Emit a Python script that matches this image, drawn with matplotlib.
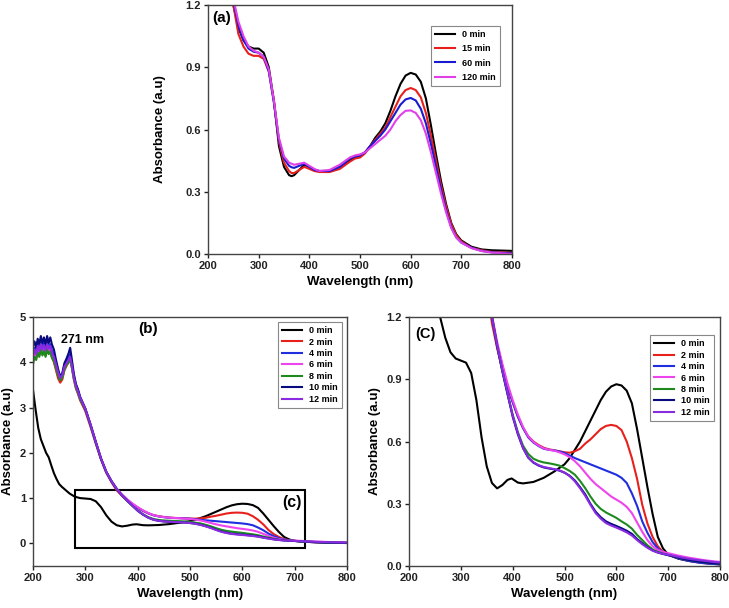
import matplotlib.pyplot as plt
from matplotlib.patches import Rectangle

plt.rcParams["font.family"] = ["Liberation Sans", "DejaVu Sans"]
plt.rcParams["font.weight"] = "bold"

# ---- panel (a) ----
wl_a = [240, 250, 260, 270, 280, 290, 300, 310, 320, 330, 340, 350, 360, 365, 370, 380,
        390, 400, 410, 420, 440, 460, 480, 490, 500, 510, 520, 530, 540, 550, 560, 570,
        580, 590, 600, 610, 620, 630, 640, 650, 660, 670, 680, 690, 700, 720, 740, 760, 800]
a_0 = [1.38, 1.2, 1.09, 1.03, 1.0, 0.99, 0.99, 0.97, 0.9, 0.74, 0.52, 0.42, 0.38, 0.375, 0.38, 0.405,
       0.43, 0.42, 0.405, 0.4, 0.4, 0.42, 0.45, 0.465, 0.475, 0.49, 0.52, 0.56, 0.59, 0.63, 0.69, 0.76,
       0.82, 0.86, 0.873, 0.865, 0.83, 0.75, 0.62, 0.48, 0.35, 0.24, 0.15, 0.095, 0.065, 0.035, 0.022, 0.018, 0.015]
a_15 = [1.36, 1.2, 1.06, 1.0, 0.965, 0.955, 0.955, 0.94, 0.88, 0.74, 0.54, 0.44, 0.4, 0.39, 0.39, 0.405,
        0.42, 0.41, 0.4, 0.395, 0.395, 0.41, 0.445, 0.46, 0.465, 0.485, 0.52, 0.55, 0.58, 0.61, 0.66, 0.71,
        0.76, 0.79, 0.8, 0.79, 0.755, 0.68, 0.57, 0.45, 0.33, 0.23, 0.145, 0.09, 0.06, 0.03, 0.018, 0.01, 0.005]
a_60 = [1.38, 1.22, 1.1, 1.03, 0.99, 0.975, 0.97, 0.95, 0.88, 0.73, 0.55, 0.46, 0.425, 0.418, 0.415, 0.425,
        0.435, 0.42, 0.405, 0.4, 0.4, 0.42, 0.46, 0.47, 0.475, 0.49, 0.52, 0.545, 0.57, 0.6, 0.64, 0.68,
        0.72, 0.745, 0.752, 0.74, 0.7, 0.63, 0.53, 0.42, 0.31, 0.21, 0.13, 0.08, 0.055, 0.03, 0.015, 0.008, 0.003]
a_120 = [1.4, 1.23, 1.12, 1.05, 1.0, 0.98, 0.97, 0.95, 0.89, 0.74, 0.56, 0.47, 0.44, 0.435, 0.43, 0.435,
         0.44, 0.425, 0.41, 0.4, 0.405, 0.43, 0.465, 0.475, 0.48, 0.49, 0.51, 0.53, 0.55, 0.57, 0.6, 0.64,
         0.67, 0.69, 0.692, 0.68, 0.645, 0.58, 0.49, 0.39, 0.29, 0.2, 0.125, 0.08, 0.055, 0.028, 0.014, 0.007, 0.0]
labels_a = ["0 min", "15 min", "60 min", "120 min"]
colors_a = ["black", "#e8201c", "#1a1ad0", "#e040e8"]

# ---- panels (b) and (c) ----
wl_0 = [200, 205, 210, 215, 220, 225, 230, 235, 240, 245, 250, 255, 260, 270, 280, 290, 300, 310,
        320, 330, 340, 350, 360, 370, 380, 390, 398, 410, 420, 440, 460, 480, 500, 510, 520, 530,
        540, 550, 560, 570, 580, 590, 600, 610, 620, 630, 640, 650, 660, 670, 680, 690, 700, 720,
        740, 760, 780, 800]
b_0 = [3.39, 2.95, 2.55, 2.3, 2.15, 2.0, 1.9, 1.72, 1.55, 1.42, 1.31, 1.25, 1.2, 1.1, 1.03, 1.0, 0.99, 0.98,
       0.93, 0.8, 0.62, 0.48, 0.4, 0.374, 0.39, 0.415, 0.422, 0.402, 0.398, 0.405, 0.425, 0.455, 0.49, 0.52,
       0.56, 0.6, 0.65, 0.7, 0.75, 0.8, 0.84, 0.865, 0.876, 0.87, 0.845, 0.784, 0.66, 0.52, 0.38, 0.25,
       0.14, 0.085, 0.055, 0.035, 0.025, 0.018, 0.012, 0.008]

wl_t = [200, 203, 206, 209, 212, 215, 218, 221, 224, 227, 230, 233, 236, 240, 244, 248, 252, 256,
        260, 264, 268, 271, 274, 278, 282, 286, 290,
        300, 310, 320, 330, 340, 350, 360, 370, 380, 390, 400, 410, 420, 430, 440, 450, 460, 470,
        480, 490, 500, 510, 520, 530, 540, 550, 560, 570, 580, 590, 600, 610, 620, 630, 640, 650,
        660, 670, 680, 690, 700, 710, 720, 730, 740, 750, 760, 770, 780, 790, 800]
b_2 = [4.05, 4.18, 4.08, 4.26, 4.15, 4.3, 4.18, 4.28, 4.15, 4.3, 4.2, 4.25, 4.12, 4.0, 3.82, 3.64, 3.55, 3.62,
       3.82, 3.92, 4.0, 4.06, 3.9, 3.62, 3.42, 3.3, 3.16,
       2.92, 2.57, 2.2, 1.85, 1.56, 1.35, 1.17, 1.05, 0.95, 0.86, 0.79, 0.72, 0.665, 0.625, 0.6, 0.583, 0.57, 0.562,
       0.558, 0.553, 0.548, 0.546, 0.553, 0.565, 0.59, 0.61, 0.635, 0.66, 0.675, 0.68, 0.675, 0.655, 0.6, 0.52, 0.42, 0.295,
       0.205, 0.14, 0.095, 0.068, 0.055, 0.045, 0.037, 0.03, 0.025, 0.02, 0.017, 0.014, 0.012, 0.01, 0.008]
b_4 = [4.2, 4.32, 4.2, 4.4, 4.28, 4.45, 4.3, 4.42, 4.28, 4.45, 4.32, 4.4, 4.26, 4.16, 3.97, 3.8, 3.66, 3.74,
       3.93, 4.02, 4.1, 4.18, 3.98, 3.7, 3.5, 3.38, 3.22,
       2.96, 2.62, 2.23, 1.87, 1.58, 1.37, 1.2, 1.07, 0.965, 0.87, 0.79, 0.72, 0.665, 0.62, 0.595, 0.578, 0.565, 0.56,
       0.557, 0.552, 0.545, 0.532, 0.52, 0.51, 0.5, 0.49, 0.48, 0.47, 0.46, 0.45, 0.44, 0.425, 0.4, 0.35, 0.29, 0.215,
       0.16, 0.115, 0.085, 0.065, 0.055, 0.045, 0.036, 0.03, 0.024, 0.02, 0.016, 0.013, 0.011, 0.009, 0.008]
b_6 = [4.1, 4.22, 4.12, 4.3, 4.2, 4.35, 4.22, 4.32, 4.2, 4.34, 4.25, 4.3, 4.18, 4.08, 3.9, 3.74, 3.62, 3.68,
       3.86, 3.95, 4.02, 4.08, 3.92, 3.66, 3.46, 3.34, 3.2,
       2.97, 2.62, 2.24, 1.88, 1.58, 1.38, 1.21, 1.08, 0.975, 0.88, 0.8, 0.73, 0.67, 0.625, 0.598, 0.58, 0.567, 0.56,
       0.556, 0.548, 0.538, 0.525, 0.505, 0.48, 0.45, 0.42, 0.395, 0.375, 0.355, 0.335, 0.32, 0.305, 0.285, 0.255, 0.21, 0.165,
       0.125, 0.095, 0.078, 0.068, 0.062, 0.056, 0.05, 0.045, 0.04, 0.036, 0.032, 0.028, 0.025, 0.022, 0.02]
b_8 = [3.95, 4.12, 4.05, 4.22, 4.12, 4.28, 4.15, 4.25, 4.12, 4.28, 4.18, 4.24, 4.1, 4.02, 3.86, 3.7, 3.6, 3.66,
       3.84, 3.94, 4.0, 4.06, 3.9, 3.64, 3.44, 3.32, 3.18,
       2.95, 2.6, 2.22, 1.86, 1.57, 1.37, 1.2, 1.06, 0.94, 0.83, 0.73, 0.645, 0.58, 0.54, 0.517, 0.506, 0.499, 0.495,
       0.49, 0.484, 0.472, 0.458, 0.44, 0.41, 0.375, 0.335, 0.3, 0.275, 0.258, 0.245, 0.232, 0.215, 0.2, 0.18, 0.15, 0.125,
       0.1, 0.08, 0.068, 0.06, 0.053, 0.046, 0.04, 0.034, 0.029, 0.025, 0.021, 0.018, 0.015, 0.013, 0.011]
b_10 = [4.35, 4.46, 4.32, 4.52, 4.4, 4.58, 4.42, 4.55, 4.38, 4.58, 4.42, 4.55, 4.4, 4.28, 4.05, 3.85, 3.68, 3.76,
        3.98, 4.08, 4.2, 4.32, 4.08, 3.75, 3.52, 3.4, 3.24,
        2.98, 2.62, 2.24, 1.87, 1.58, 1.37, 1.2, 1.06, 0.94, 0.83, 0.72, 0.635, 0.568, 0.522, 0.498, 0.484, 0.475, 0.47,
        0.466, 0.46, 0.45, 0.435, 0.412, 0.38, 0.345, 0.3, 0.262, 0.235, 0.215, 0.203, 0.193, 0.182, 0.17, 0.155, 0.13, 0.11,
        0.09, 0.075, 0.065, 0.058, 0.052, 0.046, 0.04, 0.034, 0.029, 0.025, 0.021, 0.018, 0.015, 0.013, 0.011]
b_12 = [4.15, 4.28, 4.18, 4.36, 4.25, 4.4, 4.28, 4.38, 4.26, 4.4, 4.3, 4.36, 4.22, 4.12, 3.95, 3.78, 3.65, 3.72,
        3.9, 3.98, 4.05, 4.12, 3.95, 3.68, 3.48, 3.36, 3.22,
        2.97, 2.62, 2.24, 1.87, 1.58, 1.37, 1.2, 1.065, 0.945, 0.835, 0.725, 0.64, 0.57, 0.524, 0.5, 0.486, 0.477, 0.472,
        0.467, 0.461, 0.45, 0.433, 0.408, 0.375, 0.338, 0.295, 0.255, 0.228, 0.207, 0.195, 0.185, 0.174, 0.162, 0.147, 0.125, 0.105,
        0.088, 0.074, 0.065, 0.059, 0.054, 0.049, 0.044, 0.039, 0.035, 0.031, 0.028, 0.025, 0.022, 0.019, 0.017]
labels_bc = ["0 min", "2 min", "4 min", "6 min", "8 min", "10 min", "12 min"]
colors_bc = ["black", "#e8201c", "#1f2fe0", "#ee44ee", "#1e8a1e", "#0a0a80", "#8a2be2"]

W, H = 729, 608
fig = plt.figure(figsize=(W / 100, H / 100), dpi=100)


def px_axes(x0, y0, x1, y1):
    return fig.add_axes([x0 / W, 1 - y1 / H, (x1 - x0) / W, (y1 - y0) / H])


def style(ax, ylim, yticks, yfmt, ypad=4):
    ax.set_xlim(200, 800)
    ax.set_ylim(*ylim)
    ax.set_xticks(range(200, 801, 100))
    ax.set_yticks(yticks)
    ax.set_yticklabels([yfmt.format(v) for v in yticks])
    ax.tick_params(direction="out", length=3, width=1, labelsize=8, colors="#222222", pad=2)
    for s in ax.spines.values():
        s.set_color("#444444")
        s.set_linewidth(1.0)
    ax.set_xlabel("Wavelength (nm)", fontsize=9.5, fontweight="bold", labelpad=4)
    ax.set_ylabel("Absorbance (a.u)", fontsize=9.5, fontweight="bold", labelpad=ypad)


def legend(ax, anchor, spacing):
    leg = ax.legend(loc="upper right", bbox_to_anchor=anchor, fontsize=6.5, handlelength=2.2,
                    labelspacing=spacing, borderpad=0.45, handletextpad=0.8,
                    fancybox=False, framealpha=1, edgecolor="#888888")
    leg.get_frame().set_linewidth(0.8)
    for t in leg.get_texts():
        t.set_fontweight("bold")


# (a)
ax_a = px_axes(208, 5, 512, 254)
for y, c, lab in zip([a_0, a_15, a_60, a_120], colors_a, labels_a):
    ax_a.plot(wl_a, y, color=c, lw=1.5, label=lab)
style(ax_a, (0, 1.2), [0.0, 0.3, 0.6, 0.9, 1.2], "{:.1f}", ypad=14)
legend(ax_a, (0.975, 0.935), 0.6)
ax_a.text(0.015, 0.975, "(a)", transform=ax_a.transAxes, fontsize=11, fontweight="bold", va="top")

# (b)
ax_b = px_axes(33, 317, 347, 566)
series_bc = [b_2, b_4, b_6, b_8, b_10, b_12]
ax_b.plot(wl_0, b_0, color=colors_bc[0], lw=1.5, label=labels_bc[0])
for y, c, lab in zip(series_bc, colors_bc[1:], labels_bc[1:]):
    ax_b.plot(wl_t, y, color=c, lw=1.5, label=lab)
style(ax_b, (-0.5, 5), [0, 1, 2, 3, 4, 5], "{:d}")
legend(ax_b, (0.997, 0.998), 0.27)
ax_b.add_patch(Rectangle((280, -0.1), 440, 1.28, fill=False, lw=1.5, edgecolor="black"))
ax_b.text(420, 4.73, "(b)", fontsize=11, fontweight="bold", ha="center", va="center")
ax_b.text(294, 4.49, "271 nm", fontsize=9, fontweight="bold", ha="center", va="center")
ax_b.text(695, 0.9, "(c)", fontsize=11.5, fontweight="bold", ha="center", va="center")

# (c)
ax_c = px_axes(409, 317, 720, 566)
ax_c.plot(wl_0, b_0, color=colors_bc[0], lw=1.5, label=labels_bc[0])
for y, c, lab in zip(series_bc, colors_bc[1:], labels_bc[1:]):
    ax_c.plot(wl_t, y, color=c, lw=1.5, label=lab)
style(ax_c, (0, 1.2), [0.0, 0.3, 0.6, 0.9, 1.2], "{:.1f}")
legend(ax_c, (0.995, 0.945), 0.27)
ax_c.text(0.02, 0.96, "(C)", transform=ax_c.transAxes, fontsize=10.5, fontweight="bold", va="top")

fig.savefig("out.png", dpi=100)
